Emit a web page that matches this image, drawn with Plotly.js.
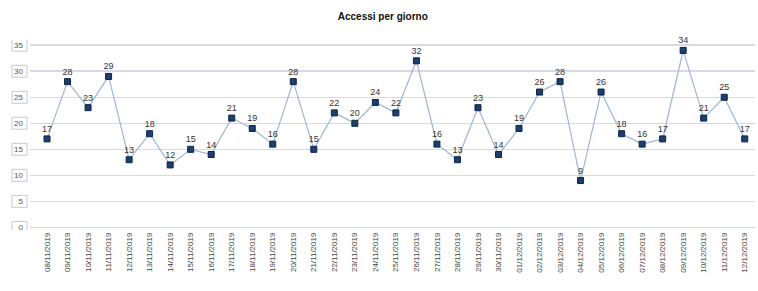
<!DOCTYPE html>
<html><head><meta charset="utf-8">
<script src="https://cdn.plot.ly/plotly-3.0.1.min.js"></script>
<style>html,body{margin:0;padding:0;background:#fff}#c{width:758px;height:291px}</style>
</head><body><div id="c"></div>
<script>
const dates = ["08/11/2019","09/11/2019","10/11/2019","11/11/2019","12/11/2019","13/11/2019","14/11/2019","15/11/2019","16/11/2019","17/11/2019","18/11/2019","19/11/2019","20/11/2019","21/11/2019","22/11/2019","23/11/2019","24/11/2019","25/11/2019","26/11/2019","27/11/2019","28/11/2019","29/11/2019","30/11/2019","01/12/2019","02/12/2019","03/12/2019","04/12/2019","05/12/2019","06/12/2019","07/12/2019","08/12/2019","09/12/2019","10/12/2019","11/12/2019","12/12/2019"];
const accessi = [17,28,23,29,13,18,12,15,14,21,19,16,28,15,22,20,24,22,32,16,13,23,14,19,26,28,9,26,18,16,17,34,21,25,17];
const yTicks = [0,5,10,15,20,25,30,35];

const trace = {
  x: dates, y: accessi, type: 'scatter', mode: 'lines+markers+text',
  text: accessi.map(String), textposition: 'top center',
  textfont: {family: 'Liberation Sans, Arial', size: 9, color: '#333'},
  line: {color: '#9db5d6', width: 1.2},
  marker: {symbol: 'square', size: 6, color: '#1d3f6e', line: {color: '#0d2448', width: 1}},
  cliponaxis: false, hoverinfo: 'none'
};
const boxes = yTicks.map(v => ({
  type: 'rect', xref: 'paper', yref: 'y', x0: -0.0248, x1: -0.0041, y0: v - 1.15, y1: v + 1.15,
  line: {color: '#c8c8d6', width: 1}, fillcolor: 'rgba(0,0,0,0)', layer: 'above'
}));
const layout = {
  width: 758, height: 291,
  margin: {l: 30, r: 3, t: 40, b: 61},
  paper_bgcolor: '#fff', plot_bgcolor: '#fff',
  showlegend: false,
  title: {text: '<b>Accessi per giorno</b>', x: 0.505, xanchor: 'center', y: 0.945, yanchor: 'middle',
          font: {family: 'Liberation Sans, Arial', size: 10, color: '#111'}},
  xaxis: {type: 'category', range: [-0.83, 34.5], showgrid: false, zeroline: false, showline: false,
          tickangle: -90, tickfont: {family: 'Liberation Sans, Arial', size: 8, color: '#444'}, ticks: '', ticklen: 0},
  yaxis: {range: [-0.5, 36], tickvals: yTicks, ticktext: yTicks.map(String), showgrid: true,
          gridcolor: '#d8d8ec', gridwidth: 1.5, zeroline: false, showline: false,
          tickfont: {family: 'Liberation Sans, Arial', size: 8, color: '#555'}, ticks: '', ticklabelstandoff: 6},
  shapes: boxes
};
Plotly.newPlot('c', [trace], layout, {displayModeBar: false, staticPlot: true});
</script></body></html>
